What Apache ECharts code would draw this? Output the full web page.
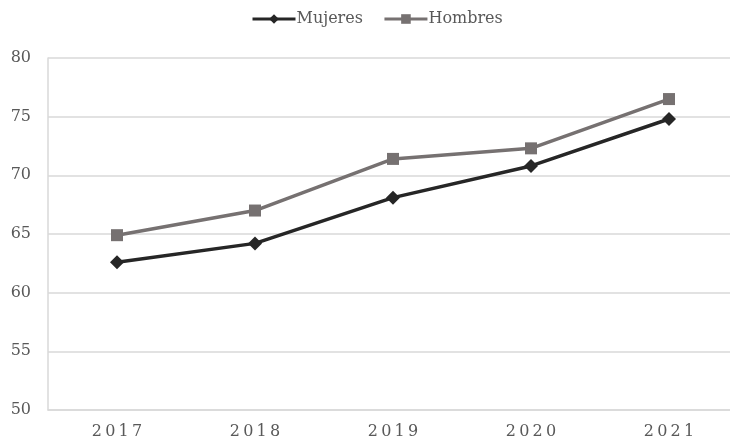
<!DOCTYPE html>
<html>
<head>
<meta charset="utf-8">
<script src="https://cdn.jsdelivr.net/npm/echarts@6/dist/echarts.min.js"></script>
<style>
html,body{margin:0;padding:0;background:#fff;overflow:hidden;}
#chart{width:746px;height:443px;}
</style>
</head>
<body>
<div id="chart"></div>
<script>
// años y valores
var years = ['2017', '2018', '2019', '2020', '2021'];
var mujeres = [62.6, 64.2, 68.1, 70.8, 74.8];
var hombres = [64.9, 67.0, 71.4, 72.3, 76.5];

var fontFam = 'DejaVu Serif';
var mychart = echarts.init(document.getElementById('chart'));
var options = {
    animation: false,
    legend: {
        top: 6,
        left: 246,
        itemWidth: 43,
        itemHeight: 12,
        itemGap: 20,
        textStyle: { fontFamily: fontFam, fontSize: 16, color: '#595959', padding: [0, 0, 0, -4] },
        lineStyle: { width: 3 },
        data: ['Mujeres', 'Hombres']
    },
    grid: {
        left: 48,
        top: 58,
        width: 690,
        height: 352,
        containLabel: false
    },
    xAxis: {
        type: 'category',
        data: years,
        boundaryGap: true,
        axisTick: { show: false },
        axisLine: { lineStyle: { color: '#d9d9d9', width: 1.5 } },
        axisLabel: {
            fontFamily: fontFam, fontSize: 16, color: '#595959', margin: 14,
            formatter: function (v) { return v.split('').join('\u2009'); }
        }
    },
    yAxis: {
        type: 'value',
        min: 50,
        max: 80,
        interval: 5,
        axisLine: { show: true, lineStyle: { color: '#d9d9d9', width: 1.5 } },
        axisTick: { show: false },
        splitLine: { lineStyle: { color: '#d9d9d9', width: 1.5 } },
        axisLabel: { fontFamily: fontFam, fontSize: 16, color: '#595959', margin: 17 }
    },
    series: [
        {
            name: 'Mujeres',
            type: 'line',
            data: mujeres,
            symbol: 'diamond',
            symbolSize: 14,
            itemStyle: { color: '#262626' },
            lineStyle: { color: '#262626', width: 3.5 }
        },
        {
            name: 'Hombres',
            type: 'line',
            data: hombres,
            symbol: 'rect',
            symbolSize: 12,
            itemStyle: { color: '#767171' },
            lineStyle: { color: '#767171', width: 3.5 }
        }
    ]
};
mychart.setOption(options, true);
</script>
</body>
</html>
